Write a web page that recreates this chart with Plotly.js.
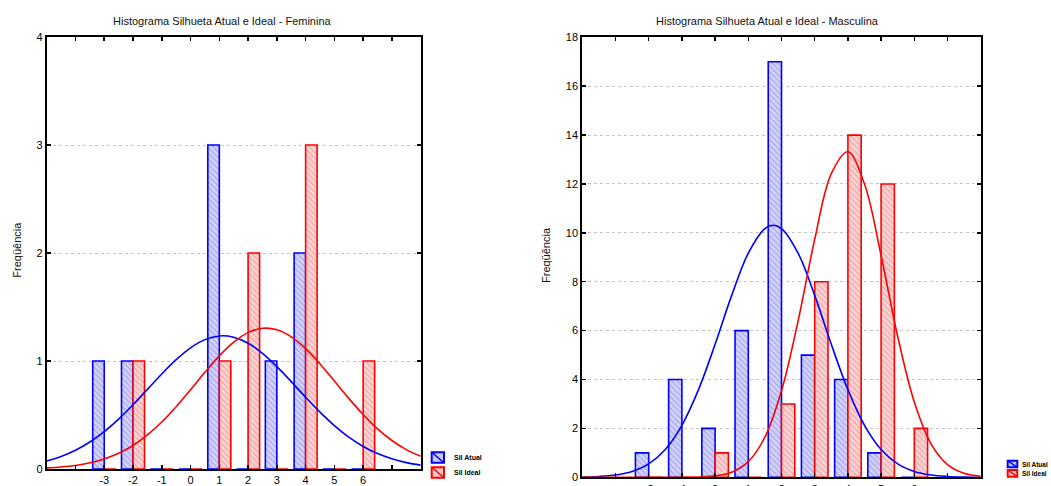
<!DOCTYPE html>
<html><head><meta charset="utf-8">
<script src="https://cdn.plot.ly/plotly-3.0.1.min.js"></script>
<style>html,body{margin:0;padding:0;background:#fff}#chart{width:1051px;height:486px}</style>
</head><body><div id="chart"></div>
<script>
// ---- Data: Feminina ----
const femCategories = [-3, -2, -1, 0, 1, 2, 3, 4, 5, 6];
const femAtual = [1, 1, 0, 0, 3, 0, 1, 2, 0, 0];
const femIdeal = [0, 1, 0, 0, 1, 2, 0, 3, 0, 1];
const femTickVals = [-5, -4, -3, -2, -1, 0, 1, 2, 3, 4, 5, 6, 7, 8];
const femTickText = ['', '', '-3', '-2', '-1', '0', '1', '2', '3', '4', '5', '6', '', ''];
// fitted normal curves
const femCurveX = [-5,-4.5,-4,-3.5,-3,-2.5,-2,-1.5,-1,-0.5,0,0.5,1,1.5,2,2.5,3,3.5,4,4.5,5,5.5,6,6.5,7,7.5,8];
const femAtualCurve = [0.075,0.116,0.174,0.250,0.346,0.462,0.595,0.737,0.880,1.012,1.122,1.198,1.232,1.220,1.165,1.071,0.948,0.809,0.665,0.527,0.402,0.295,0.209,0.143,0.094,0.059,0.036];
const femIdealCurve = [0.010,0.019,0.033,0.057,0.093,0.145,0.218,0.315,0.435,0.577,0.734,0.895,1.047,1.174,1.263,1.303,1.290,1.224,1.114,0.973,0.815,0.654,0.504,0.372,0.264,0.179,0.117];

// ---- Data: Masculina ----
const mascCategories = [-2, -1, 0, 1, 2, 3, 4, 5, 6];
const mascAtual = [1, 4, 2, 6, 17, 5, 4, 1, 0];
const mascIdeal = [0, 0, 1, 0, 3, 8, 14, 12, 2];
const mascTickVals = [-4, -3, -2, -1, 0, 1, 2, 3, 4, 5, 6, 7, 8];
const mascTickText = ['', '', '-2', '-1', '0', '1', '2', '3', '4', '5', '6', '', ''];
const mascAtualCurveX = [-4,-3.5,-3,-2.5,-2,-1.5,-1,-0.5,0,0.5,1,1.5,1.75,2,2.5,3,3.5,4,4.5,5,5.5,6,6.5,7,7.5,8];
const mascAtualCurve = [0.010,0.033,0.093,0.238,0.548,1.139,2.128,3.585,5.441,7.442,9.168,10.176,10.31,10.176,9.168,7.442,5.441,3.585,2.128,1.139,0.548,0.238,0.093,0.033,0.010,0.003];
const mascIdealCurveX = [-4,-3.5,-3,-2.5,-2,-1.5,-1,-0.5,0,0.5,1,1.5,2,2.5,3,3.5,4,4.5,5,5.5,6,6.5,7,7.5,8];
const mascIdealCurve = [0,0,0,0,0,0.0004,0.0026,0.013,0.058,0.210,0.640,1.643,3.538,6.402,9.731,12.421,13.318,11.996,9.075,5.765,3.078,1.380,0.519,0.164,0.044];

const seriesNames = ['Sil Atual', 'Sil Ideal'];
const titles = ['Histograma Silhueta Atual e Ideal - Feminina', 'Histograma Silhueta Atual e Ideal - Masculina'];
const yTitle = 'Freqüência';

// ---- Styles ----
const W = 1051, H = 486;
const FONT = 'Arial, "Liberation Sans", sans-serif';
const BLUE = '#0000ff', RED = '#ff0000';
const blueMarker = {color: '#cfcff8', line: {color: BLUE, width: 1.6},
  pattern: {shape: '\\', bgcolor: '#d4d4fa', fgcolor: '#9a9aee', size: 4, solidity: 0.25}};
const redMarker = {color: '#f8cfcf', line: {color: RED, width: 1.6},
  pattern: {shape: '\\', bgcolor: '#fad4d4', fgcolor: '#ee9a9a', size: 4, solidity: 0.25}};

function bar(x, y, name, marker, xa, ya) {
  return {type: 'bar', x: x, y: y, name: name, marker: marker, xaxis: xa, yaxis: ya,
    showlegend: false, hoverinfo: 'x+y'};
}
function curve(x, y, color, xa, ya) {
  return {type: 'scatter', mode: 'lines', x: x, y: y, xaxis: xa, yaxis: ya,
    line: {color: color, width: 1.6, shape: 'spline', smoothing: 1}, showlegend: false, hoverinfo: 'skip'};
}

const traces = [
  bar(femCategories, femAtual, seriesNames[0], blueMarker, 'x', 'y'),
  bar(femCategories, femIdeal, seriesNames[1], redMarker, 'x', 'y'),
  curve(femCurveX, femAtualCurve, BLUE, 'x', 'y'),
  curve(femCurveX, femIdealCurve, RED, 'x', 'y'),
  bar(mascCategories, mascAtual, seriesNames[0], blueMarker, 'x2', 'y2'),
  bar(mascCategories, mascIdeal, seriesNames[1], redMarker, 'x2', 'y2'),
  curve(mascAtualCurveX, mascAtualCurve, BLUE, 'x2', 'y2'),
  curve(mascIdealCurveX, mascIdealCurve, RED, 'x2', 'y2')
];

const px = v => v / W, py = v => 1 - v / H;

function xAxis(domain, range, vals, text, anchor) {
  return {domain: domain, range: range, tickmode: 'array', tickvals: vals, ticktext: text,
    ticks: 'inside', ticklen: 4, tickwidth: 1.5, tickcolor: '#000',
    showline: true, linecolor: '#000', linewidth: 2, mirror: 'ticks',
    showgrid: false, zeroline: false, anchor: anchor, fixedrange: true,
    tickfont: {family: FONT, size: 11, color: '#000'}};
}
function yAxis(domain, range, dtick, anchor) {
  return {domain: domain, range: range, dtick: dtick, tick0: 0,
    ticks: 'inside', ticklen: 4, tickwidth: 1.5, tickcolor: '#000',
    showline: true, linecolor: '#000', linewidth: 2, mirror: 'ticks',
    showgrid: true, gridcolor: '#c4c4c4', griddash: 'dot', gridwidth: 1,
    zeroline: false, anchor: anchor, fixedrange: true,
    tickfont: {family: FONT, size: 11, color: '#000'}};
}

function legendShapes(x0, x1, yb0, yb1, yr0, yr1) {
  return [
    {type: 'rect', xref: 'paper', yref: 'paper', x0: px(x0), x1: px(x1), y0: py(yb1), y1: py(yb0),
      fillcolor: '#c8c8f8', line: {color: BLUE, width: 2}},
    {type: 'line', xref: 'paper', yref: 'paper', x0: px(x0), x1: px(x1), y0: py(yb0), y1: py(yb1),
      line: {color: BLUE, width: 1.5}},
    {type: 'rect', xref: 'paper', yref: 'paper', x0: px(x0), x1: px(x1), y0: py(yr1), y1: py(yr0),
      fillcolor: '#f8c8c8', line: {color: RED, width: 2}},
    {type: 'line', xref: 'paper', yref: 'paper', x0: px(x0), x1: px(x1), y0: py(yr0), y1: py(yr1),
      line: {color: RED, width: 1.5}}
  ];
}
function legendText(x, y, text, size) {
  return {xref: 'paper', yref: 'paper', x: px(x), y: py(y), xanchor: 'left', yanchor: 'middle',
    text: '<b>' + text + '</b>', showarrow: false, font: {family: FONT, size: size, color: '#000'}};
}

const layout = {
  width: W, height: H, margin: {l: 0, r: 0, t: 0, b: 0},
  paper_bgcolor: '#fff', plot_bgcolor: '#fff',
  barmode: 'group', bargap: 0.2, bargroupgap: 0,
  showlegend: false,
  xaxis: xAxis([px(46.7), px(420.7)], [-5, 8], femTickVals, femTickText, 'y'),
  yaxis: yAxis([py(469), py(37)], [0, 4], 1, 'x'),
  xaxis2: xAxis([px(582.3), px(980.7)], [-4, 8], mascTickVals, mascTickText, 'y2'),
  yaxis2: yAxis([py(477.3), py(37.3)], [0, 18], 2, 'x2'),
  shapes: [].concat(
    legendShapes(431.7, 444, 452.3, 462.7, 467.3, 477.7),
    legendShapes(1007.7, 1017.3, 460.7, 467.3, 470, 476.7)
  ),
  annotations: [
    {xref: 'paper', yref: 'paper', x: px(222.5), y: py(20.5), xanchor: 'center', yanchor: 'middle',
      text: titles[0], showarrow: false, font: {family: FONT, size: 11, color: '#111'}},
    {xref: 'paper', yref: 'paper', x: px(767), y: py(20.5), xanchor: 'center', yanchor: 'middle',
      text: titles[1], showarrow: false, font: {family: FONT, size: 11, color: '#111'}},
    {xref: 'paper', yref: 'paper', x: px(16.7), y: py(250), xanchor: 'center', yanchor: 'middle',
      text: yTitle, textangle: -90, showarrow: false, font: {family: FONT, size: 11, color: '#111'}},
    {xref: 'paper', yref: 'paper', x: px(546), y: py(255), xanchor: 'center', yanchor: 'middle',
      text: yTitle, textangle: -90, showarrow: false, font: {family: FONT, size: 11, color: '#111'}},
    legendText(452, 457.5, seriesNames[0], 7),
    legendText(452, 472.5, seriesNames[1], 7),
    legendText(1019.5, 464, seriesNames[0], 6.5),
    legendText(1019.5, 473.3, seriesNames[1], 6.5)
  ]
};

Plotly.newPlot('chart', traces, layout, {displayModeBar: false, staticPlot: true});
</script>
</body></html>
